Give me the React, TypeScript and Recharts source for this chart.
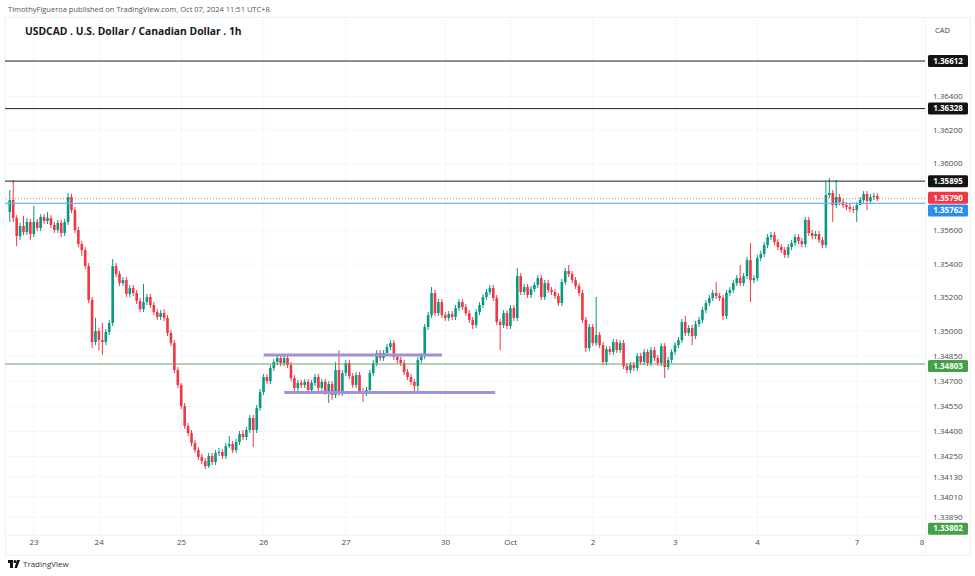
import { ComposedChart, Bar, XAxis, YAxis, CartesianGrid, ReferenceLine } from 'recharts';

// USDCAD 1h candles, Sep 20 (late) -> Oct 7 11:00 (UTC+8)
const firstOpen = 1.3571;

const closes = [
  1.35782, 1.35675, 1.35567, 1.35627, 1.35591, 1.35651, 1.35579, 1.35651, 1.35615, 1.35681,
  1.35657, 1.35675, 1.35633, 1.35603, 1.35645, 1.35585, 1.35651, 1.358, 1.35722, 1.35603,
  1.35519, 1.35483, 1.35388, 1.35185, 1.34934, 1.35, 1.34946, 1.34934, 1.34994, 1.35048,
  1.35388, 1.3534, 1.35286, 1.35304, 1.35221, 1.35257, 1.35227, 1.35179, 1.35131, 1.35173,
  1.35203, 1.35155, 1.35113, 1.35084, 1.35107, 1.35078, 1.34988, 1.34928, 1.34767, 1.34678,
  1.34552, 1.34433, 1.34391, 1.34331, 1.34289, 1.34248, 1.34224, 1.34194, 1.34254, 1.34218,
  1.34272, 1.34278, 1.34254, 1.34313, 1.34325, 1.34289, 1.34337, 1.34385, 1.34367, 1.34409,
  1.34481, 1.34409, 1.3454, 1.34636, 1.34725, 1.34701, 1.34779, 1.34815, 1.34839, 1.34809,
  1.34839, 1.34797, 1.34719, 1.3466, 1.3469, 1.34678, 1.34696, 1.34648, 1.3469, 1.34725,
  1.3466, 1.34696, 1.34636, 1.34684, 1.34618, 1.34767, 1.3463, 1.34749, 1.34809, 1.34731,
  1.34678, 1.34737, 1.34642, 1.3463, 1.34648, 1.34749, 1.34809, 1.34869, 1.34839, 1.34869,
  1.34904, 1.34928, 1.34845, 1.34827, 1.34809, 1.34755, 1.34725, 1.34696, 1.34672, 1.34827,
  1.34851, 1.35024, 1.35095, 1.35227, 1.35107, 1.35173, 1.35095, 1.35078, 1.35101, 1.35084,
  1.35137, 1.35173, 1.35143, 1.35107, 1.35066, 1.35036, 1.35113, 1.35155, 1.35203, 1.35233,
  1.35257, 1.35197, 1.35054, 1.35036, 1.35107, 1.3503, 1.35137, 1.35078, 1.35328, 1.35233,
  1.35263, 1.35215, 1.35251, 1.35275, 1.35316, 1.35203, 1.35286, 1.35245, 1.35233, 1.35209,
  1.35167, 1.35292, 1.35358, 1.3534, 1.35304, 1.35269, 1.35227, 1.35066, 1.34898, 1.35024,
  1.34928, 1.34976, 1.34916, 1.34815, 1.34892, 1.34875, 1.34934, 1.34886, 1.34928, 1.34791,
  1.34767, 1.34797, 1.34779, 1.34851, 1.34815, 1.34875, 1.34809, 1.34886, 1.34839, 1.34809,
  1.3491, 1.34785, 1.34827, 1.34875, 1.34916, 1.34946, 1.35054, 1.34988, 1.35018, 1.3497,
  1.35042, 1.35066, 1.35125, 1.35167, 1.35197, 1.35227, 1.35209, 1.35197, 1.3509, 1.35227,
  1.35245, 1.35286, 1.35316, 1.35286, 1.35328, 1.35424, 1.35304, 1.35316, 1.35436, 1.3546,
  1.35513, 1.35561, 1.35573, 1.35531, 1.35501, 1.35483, 1.35454, 1.35501, 1.35525, 1.35561,
  1.35537, 1.35519, 1.35663, 1.35585, 1.35567, 1.35579, 1.35543, 1.35513, 1.35812, 1.35824,
  1.35752, 1.358, 1.3577, 1.35752, 1.3574, 1.35728, 1.35722, 1.35752, 1.35782, 1.35818,
  1.35776, 1.358, 1.35806, 1.3579,
];

const highs = [
  1.35842, 1.35901, 1.35692, 1.35645, 1.35686, 1.35675, 1.35669, 1.35746, 1.35669, 1.35698,
  1.35698, 1.3571, 1.35692, 1.35651, 1.35663, 1.35663, 1.35669, 1.35824, 1.35818, 1.3574,
  1.35621, 1.35537, 1.35501, 1.35406, 1.35203, 1.35078, 1.35018, 1.35048, 1.35012, 1.35066,
  1.3543, 1.35406, 1.35358, 1.35322, 1.35322, 1.35275, 1.35275, 1.35245, 1.35197, 1.35281,
  1.35221, 1.35221, 1.35173, 1.35131, 1.35125, 1.35131, 1.35095, 1.35006, 1.34946, 1.34785,
  1.3469, 1.3457, 1.34451, 1.34409, 1.34349, 1.34307, 1.34266, 1.34242, 1.34272, 1.34272,
  1.34289, 1.34301, 1.34295, 1.34331, 1.34373, 1.34343, 1.34355, 1.34403, 1.34409, 1.34427,
  1.34498, 1.34498, 1.34558, 1.34654, 1.34743, 1.34743, 1.34797, 1.34833, 1.34857, 1.34857,
  1.34857, 1.34857, 1.34815, 1.34737, 1.34707, 1.34707, 1.34713, 1.34713, 1.34707, 1.34743,
  1.34743, 1.34713, 1.34713, 1.34701, 1.34701, 1.34815, 1.34886, 1.34767, 1.34827, 1.34827,
  1.34749, 1.34755, 1.34755, 1.3466, 1.34666, 1.34767, 1.34827, 1.34886, 1.34886, 1.34886,
  1.34922, 1.34946, 1.34946, 1.34863, 1.34845, 1.34827, 1.34773, 1.34743, 1.34713, 1.34845,
  1.34869, 1.35042, 1.35113, 1.35263, 1.35245, 1.35191, 1.35191, 1.35113, 1.35119, 1.35119,
  1.35155, 1.35191, 1.35191, 1.35161, 1.35125, 1.35084, 1.35131, 1.35173, 1.35221, 1.35251,
  1.35275, 1.35275, 1.35215, 1.35072, 1.35125, 1.35125, 1.35155, 1.35155, 1.35376, 1.35346,
  1.35281, 1.35281, 1.35269, 1.35292, 1.35334, 1.35334, 1.35304, 1.35304, 1.35263, 1.35251,
  1.35227, 1.3531, 1.35376, 1.35394, 1.35358, 1.35322, 1.35286, 1.35245, 1.35084, 1.35042,
  1.35042, 1.35203, 1.34994, 1.34934, 1.3491, 1.3491, 1.34952, 1.34952, 1.34946, 1.34946,
  1.34809, 1.34815, 1.34815, 1.34869, 1.34869, 1.34892, 1.34892, 1.34904, 1.34904, 1.34857,
  1.34928, 1.34928, 1.34845, 1.34892, 1.34934, 1.34964, 1.35072, 1.3509, 1.35036, 1.35036,
  1.3506, 1.35084, 1.35143, 1.35185, 1.35215, 1.35245, 1.35292, 1.35227, 1.35215, 1.35245,
  1.35263, 1.35304, 1.35334, 1.35394, 1.35346, 1.35442, 1.35525, 1.35334, 1.35454, 1.35478,
  1.35531, 1.35579, 1.35591, 1.35591, 1.35549, 1.35519, 1.35501, 1.35519, 1.35543, 1.35579,
  1.35579, 1.35555, 1.35681, 1.35681, 1.35603, 1.35597, 1.35597, 1.35561, 1.35895, 1.35913,
  1.35842, 1.35901, 1.35818, 1.35788, 1.3577, 1.35758, 1.35746, 1.3577, 1.358, 1.35836,
  1.35836, 1.35818, 1.35824, 1.35824,
];

const lows = [
  1.35651, 1.35651, 1.35507, 1.35543, 1.35573, 1.35573, 1.35543, 1.35561, 1.35597, 1.35597,
  1.35639, 1.35639, 1.35615, 1.35585, 1.35585, 1.35561, 1.35567, 1.35633, 1.35704, 1.35585,
  1.35501, 1.35448, 1.3537, 1.35167, 1.34898, 1.34916, 1.34886, 1.34857, 1.34916, 1.34976,
  1.3503, 1.35322, 1.35269, 1.35269, 1.35203, 1.35203, 1.35209, 1.35161, 1.35113, 1.35113,
  1.35155, 1.35137, 1.35095, 1.35066, 1.35066, 1.3506, 1.3497, 1.3491, 1.34749, 1.3466,
  1.34534, 1.34415, 1.34373, 1.34313, 1.34272, 1.3423, 1.34206, 1.34176, 1.34182, 1.342,
  1.342, 1.34254, 1.34236, 1.34236, 1.34301, 1.34272, 1.34272, 1.34319, 1.34349, 1.34349,
  1.34391, 1.34307, 1.34391, 1.34522, 1.34618, 1.34684, 1.34684, 1.34761, 1.34797, 1.34791,
  1.34791, 1.34779, 1.34701, 1.34642, 1.34642, 1.3466, 1.3466, 1.3463, 1.3463, 1.34672,
  1.34642, 1.34642, 1.34618, 1.3457, 1.34588, 1.346, 1.34612, 1.34612, 1.34731, 1.34713,
  1.3466, 1.3466, 1.34624, 1.34576, 1.34612, 1.3463, 1.34731, 1.34791, 1.34821, 1.34821,
  1.34851, 1.34886, 1.34827, 1.34809, 1.34791, 1.34737, 1.34707, 1.34678, 1.3463, 1.34636,
  1.34809, 1.34833, 1.35006, 1.35078, 1.3509, 1.3509, 1.35078, 1.3506, 1.3506, 1.35066,
  1.35066, 1.35119, 1.35125, 1.3509, 1.35048, 1.35012, 1.35018, 1.35095, 1.35137, 1.35185,
  1.35215, 1.35179, 1.35036, 1.34886, 1.35018, 1.35012, 1.35012, 1.3506, 1.3506, 1.35215,
  1.35215, 1.35197, 1.35197, 1.35233, 1.35257, 1.35185, 1.35185, 1.35227, 1.35215, 1.35191,
  1.35149, 1.35149, 1.35275, 1.35322, 1.35286, 1.35251, 1.35209, 1.35048, 1.34875, 1.3488,
  1.3491, 1.3491, 1.34898, 1.34797, 1.34797, 1.34857, 1.34857, 1.34869, 1.34869, 1.34773,
  1.34749, 1.34749, 1.34761, 1.34761, 1.34797, 1.34797, 1.34791, 1.34791, 1.34821, 1.34791,
  1.34791, 1.34719, 1.34767, 1.34809, 1.34857, 1.34898, 1.34928, 1.3497, 1.3497, 1.34916,
  1.34952, 1.35024, 1.35048, 1.35107, 1.35149, 1.35179, 1.35191, 1.35179, 1.35066, 1.35072,
  1.35209, 1.35227, 1.35269, 1.35269, 1.35269, 1.3531, 1.35173, 1.35286, 1.35298, 1.35418,
  1.35442, 1.35495, 1.35543, 1.35513, 1.35483, 1.35466, 1.35436, 1.35436, 1.35483, 1.35507,
  1.35519, 1.35501, 1.35501, 1.35567, 1.35549, 1.35549, 1.35525, 1.35495, 1.35495, 1.35794,
  1.35651, 1.35734, 1.35752, 1.35734, 1.35722, 1.3571, 1.35704, 1.35651, 1.35764, 1.35764,
  1.35722, 1.35758, 1.35782, 1.35776,
];

// bar index of the first hour of each day
const dayTicks = [7, 26, 50, 74, 98, 127, 146, 170, 194, 218, 247, 266];
const dayLabels = ['23', '24', '25', '26', '27', '30', 'Oct', '2', '3', '4', '7', '8'];

const priceTicks = [
  1.364, 1.362, 1.36, 1.356, 1.354, 1.352, 1.35, 1.3485, 1.347, 1.3455, 1.344, 1.3425, 1.3413,
  1.3401, 1.3389,
];

const blackLevels = [1.36612, 1.36328, 1.35895];
const lastPrice = 1.3579;
const blueLevel = 1.35762;
const greenLevel = 1.34803;
const lowMark = 1.33802;

// drawn range box (bar index / price)
const rangeTop = { price: 1.34857, from: 74, to: 126 };
const rangeBottom = { price: 1.34633, from: 80, to: 141.5 };

const UP = '#089981';
const DOWN = '#f23645';
const FONT = '"Open Sans", "Noto Sans", sans-serif';

const candles = closes.map((c, i) => ({
  i,
  o: i === 0 ? firstOpen : closes[i - 1],
  c,
  h: highs[i],
  l: lows[i],
}));

const Candle = (props: any) => {
  const { x, y, width, height, payload } = props;
  if (!payload || height == null) return null;
  const { o, c, h, l } = payload;
  const color = c >= o ? UP : DOWN;
  const cx = x + width / 2;
  const span = h - l || 1e-9;
  const py = (p: number) => y + ((h - p) / span) * height;
  const top = py(Math.max(o, c));
  const bot = py(Math.min(o, c));
  const bw = 2.6;
  return (
    <g>
      <line x1={cx} x2={cx} y1={y} y2={y + height} stroke={color} strokeWidth={1} />
      <rect x={cx - bw / 2} y={top} width={bw} height={Math.max(bot - top, 1)} fill={color} />
    </g>
  );
};

const PriceTag = ({ viewBox, text, bg, shift = 0 }: any) => {
  if (!viewBox) return null;
  const x = viewBox.x + viewBox.width + 3;
  const cy = viewBox.y + shift;
  return (
    <g>
      <rect x={x} y={cy - 6} width={40} height={12} rx={1.5} fill={bg} />
      <text
        x={x + 20}
        y={cy}
        dy="0.35em"
        textAnchor="middle"
        fill="#fff"
        fontSize={8}
        fontWeight={700}
        fontFamily={FONT}
      >
        {text}
      </text>
    </g>
  );
};

export default function App() {
  return (
    <div
      style={{
        position: 'absolute',
        left: 0,
        top: 0,
        width: 975,
        height: 576,
        background: '#fff',
        fontFamily: FONT,
        overflow: 'hidden',
      }}
    >
      <div style={{ position: 'absolute', left: 8, top: 4, fontSize: 7.5, color: '#555' }}>
        TimothyFigueroa published on TradingView.com, Oct 07, 2024 11:51 UTC+8
      </div>
      <div
        style={{
          position: 'absolute',
          left: 5,
          top: 17,
          width: 964,
          height: 537,
          border: '1px solid #eceef2',
        }}
      />
      <div style={{ position: 'absolute', left: 925, top: 17, width: 1, height: 538, background: '#f1f2f5' }} />
      <div style={{ position: 'absolute', left: 5, top: 535, width: 920, height: 1, background: '#f1f2f5' }} />

      <div style={{ position: 'absolute', left: 0, top: 0 }}>
        <ComposedChart
          width={975}
          height={560}
          data={candles}
          margin={{ top: 17, right: 5, bottom: 0, left: 5 }}
        >
          <CartesianGrid stroke="#f5f6f8" />
          <XAxis
            dataKey="i"
            type="number"
            domain={[-1.46, 266.84]}
            allowDataOverflow
            ticks={dayTicks}
            interval={0}
            tickFormatter={(v: number) => dayLabels[dayTicks.indexOf(v)]}
            axisLine={false}
            tickLine={false}
            tickSize={4}
            tickMargin={0}
            height={25}
            tick={{ fontSize: 8, fill: '#4a4a4a', fontFamily: FONT }}
          />
          <YAxis
            orientation="right"
            type="number"
            domain={[1.33782, 1.36875]}
            allowDataOverflow
            ticks={priceTicks}
            interval={0}
            tickFormatter={(v: number) => v.toFixed(5)}
            axisLine={false}
            tickLine={false}
            tickSize={6}
            tickMargin={2}
            width={45}
            tick={{ fontSize: 8, fill: '#4a4a4a', fontFamily: FONT, textAnchor: 'start' }}
          />

          {blackLevels.map((p) => (
            <ReferenceLine
              key={p}
              y={p}
              stroke="#1e1e1e"
              strokeWidth={1}
              label={<PriceTag text={p.toFixed(5)} bg="#131313" />}
            />
          ))}
          <ReferenceLine
            y={blueLevel}
            stroke="#5bc0e8"
            strokeWidth={1.2}
            label={<PriceTag text={blueLevel.toFixed(5)} bg="#2b8ee8" shift={7} />}
          />
          <ReferenceLine
            y={lastPrice}
            stroke="#f23645"
            strokeOpacity={0.7}
            strokeDasharray="1 2"
            label={<PriceTag text={lastPrice.toFixed(5)} bg="#f23645" shift={-1} />}
          />
          <ReferenceLine
            y={greenLevel}
            stroke="#6a9f6a"
            strokeWidth={1}
            label={<PriceTag text={greenLevel.toFixed(5)} bg="#43a047" shift={2} />}
          />
          <ReferenceLine
            y={lowMark}
            stroke="#43a047"
            strokeOpacity={0}
            label={<PriceTag text={lowMark.toFixed(5)} bg="#43a047" shift={-3} />}
          />

          <ReferenceLine
            segment={[
              { x: rangeTop.from, y: rangeTop.price },
              { x: rangeTop.to, y: rangeTop.price },
            ]}
            stroke="#9d90de"
            strokeWidth={3}
          />
          <ReferenceLine
            segment={[
              { x: rangeBottom.from, y: rangeBottom.price },
              { x: rangeBottom.to, y: rangeBottom.price },
            ]}
            stroke="#9d90de"
            strokeWidth={3}
          />

          <Bar
            dataKey={(d: any) => [d.l, d.h]}
            barSize={3}
            shape={<Candle />}
            isAnimationActive={false}
          />
        </ComposedChart>
      </div>

      <div
        style={{
          position: 'absolute',
          left: 25,
          top: 24,
          fontSize: 10.3,
          fontWeight: 700,
          color: '#131722',
        }}
      >
        USDCAD . U.S. Dollar / Canadian Dollar . 1h
      </div>
      <div style={{ position: 'absolute', left: 935, top: 25, fontSize: 7.5, color: '#444' }}>CAD</div>

      <div
        style={{
          position: 'absolute',
          left: 8,
          top: 558,
          display: 'flex',
          alignItems: 'center',
          gap: 3,
          fontSize: 8,
          color: '#333',
        }}
      >
        <svg width={12} height={8} viewBox="0 0 12 8">
          <rect x={0} y={0} width={5} height={3} fill="#131722" />
          <rect x={2} y={0} width={3} height={8} fill="#131722" />
          <circle cx={7} cy={1.5} r={1.5} fill="#131722" />
          <polygon points="9,0 12,0 9,8 6.5,8" fill="#131722" />
        </svg>
        <span>TradingView</span>
      </div>
    </div>
  );
}
